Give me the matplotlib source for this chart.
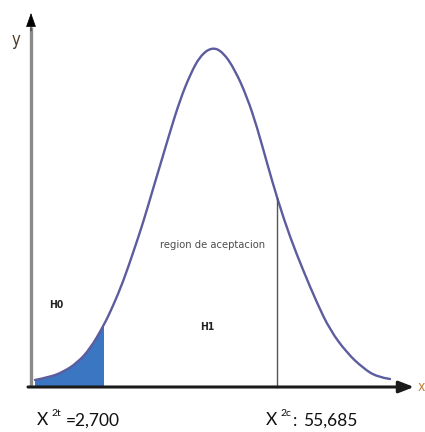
import numpy as np
import matplotlib
matplotlib.use("Agg")
import matplotlib.pyplot as plt
from matplotlib.path import Path
from matplotlib.patches import PathPatch

# curve read as (position, height above the x axis)
curve_x = [35, 50, 63, 77, 90, 104, 113, 123, 133, 143, 153, 162, 170,
           180, 190, 200, 212, 223, 235, 247, 257, 267, 278, 290, 303,
           317, 330, 347, 363, 377, 390]
curve_y = [7, 10, 15, 24, 38, 62, 81, 105, 134, 164, 198, 228, 255,
           287, 312, 331, 340, 335, 317, 290, 260, 224, 186, 150, 117,
           84, 57, 34, 19, 10, 8]

x_crit_low = 104    # end of the shaded H0 tail
x_crit_high = 277   # position of the vertical cut line
label_low = "=2,700"
label_high = "55,685"


def smooth_path(xs, ys):
    # quadratic segments through the midpoints, points act as controls
    pts = np.column_stack([xs, ys]).astype(float)
    verts = [pts[0]]
    codes = [Path.MOVETO]
    for i in range(1, len(pts) - 1):
        mid = (pts[i] + pts[i + 1]) / 2 if i < len(pts) - 2 else pts[i + 1]
        verts += [pts[i], mid]
        codes += [Path.CURVE3, Path.CURVE3]
    return Path(verts, codes)


fig = plt.figure(figsize=(4.25, 4.32), dpi=100)
ax = fig.add_axes([0, 0, 1, 1])
ax.set_xlim(0, 425)
ax.set_ylim(387 - 432, 387)
ax.axis("off")

# axes with arrows
ax.plot([31, 31], [0, 360], color="#8a8a8a", lw=2.4, solid_capstyle="butt")
ax.annotate("", xy=(31, 374), xytext=(31, 356),
            arrowprops=dict(arrowstyle="-|>,head_width=0.32,head_length=0.9",
                            color="black", lw=0.5, shrinkA=0, shrinkB=0))
ax.annotate("", xy=(414, 0), xytext=(28, 0),
            arrowprops=dict(arrowstyle="-|>,head_width=0.35,head_length=0.9",
                            color="#1a1a1a", lw=2.2, shrinkA=0, shrinkB=0))

cx = np.array(curve_x)
cy = np.array(curve_y)
curve = smooth_path(cx, cy)

# shaded H0 tail: area under the curve, clipped at x_crit_low
under = Path(np.vstack([curve.vertices, [[cx[-1], 0], [cx[0], 0], [cx[0], cy[0]]]]),
             list(curve.codes) + [Path.LINETO, Path.LINETO, Path.CLOSEPOLY])
shade = PathPatch(under, facecolor="#3a76c2", edgecolor="none")
ax.add_patch(shade)
clip_rect = plt.Rectangle((0, -1), x_crit_low, 400, transform=ax.transData)
shade.set_clip_path(clip_rect)

ax.add_patch(PathPatch(curve, facecolor="none", edgecolor="#5c5c9e",
                       lw=1.7, capstyle="round"))

# vertical line up to the curve
h = np.interp(x_crit_high, cx, cy)
ax.plot([x_crit_high, x_crit_high], [0, h], color="#555555", lw=1.0)

cond = dict(family="DejaVu Sans", fontstretch="condensed")
ax.text(16, 347, "y", fontsize=12, color="#4a3a2a", ha="center",
        va="center", **cond)
ax.text(418, 0, "x", fontsize=10, color="#c08040", ha="left", va="center",
        **cond)
ax.text(56, 82, "H0", fontsize=7.5, fontweight="bold", color="#222222",
        ha="center", va="center", **cond)
ax.text(207, 60, "H1", fontsize=7.5, fontweight="bold", color="#222222",
        ha="center", va="center", **cond)
ax.text(213, 142, "region de aceptacion", fontsize=8, color="#4d4d4d",
        ha="center", va="center", **cond)

lab = dict(family=["Lato", "DejaVu Sans"], color="#111111")
ax.text(37, -33, "X", fontsize=12.5, ha="left", va="center", **lab)
ax.text(51, -27, "2t", fontsize=7.5, ha="left", va="center", **lab)
ax.text(66, -34, label_low, fontsize=12.5, ha="left", va="center", **lab)
ax.text(266, -33, "X", fontsize=12.5, ha="left", va="center", **lab)
ax.text(280, -27, "2c", fontsize=7.5, ha="left", va="center", **lab)
ax.text(293, -34, ":", fontsize=12.5, ha="left", va="center", **lab)
ax.text(303, -34, label_high, fontsize=12.5, ha="left", va="center", **lab)

fig.savefig("out.png", dpi=100)
